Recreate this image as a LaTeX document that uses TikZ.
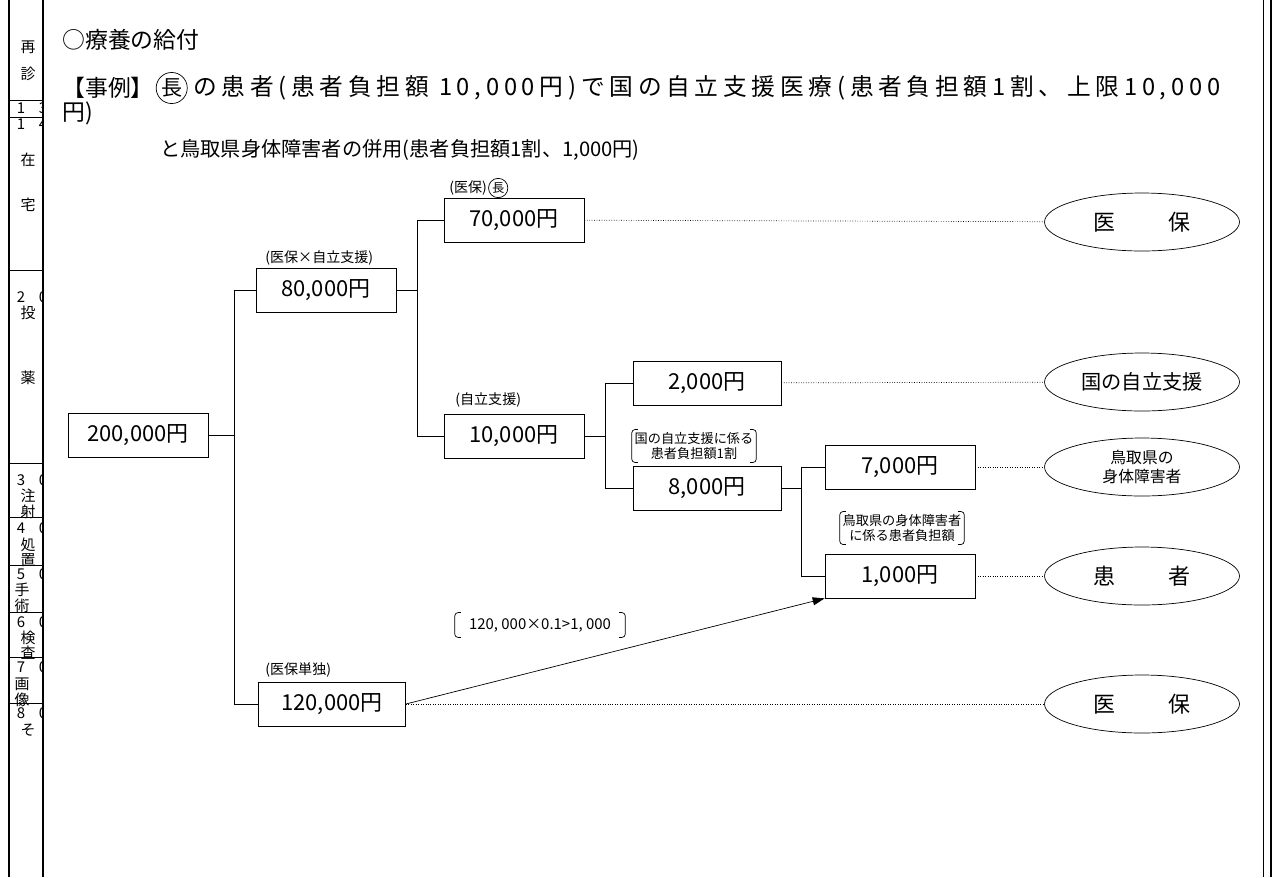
\documentclass[tikz,border=0pt]{standalone}
\usepackage{fontspec}
\setmainfont{Noto Sans CJK JP}
\newfontfamily\widejp[LetterSpace=20]{Noto Sans CJK JP}
\usetikzlibrary{arrows.meta, positioning, shapes.geometric, calc}

\begin{document}
\begin{tikzpicture}[x=0.02cm, y=-0.02cm,
    box/.style={draw, thin, minimum width=2.8cm, minimum height=0.88cm,
                inner sep=0pt, font=\fontsize{12.5}{14}\selectfont},
    payer/.style={draw, thin, ellipse, minimum width=3.9cm, minimum height=1.16cm,
                  inner sep=0pt, align=center, font=\fontsize{12.5}{14}\selectfont},
    tag/.style={anchor=west, inner sep=0pt, font=\fontsize{8}{9}\selectfont},
    note/.style={align=center, inner sep=1.5pt, font=\fontsize{7.5}{8.5}\selectfont},
    head/.style={anchor=west, inner sep=0pt},
    chou/.style={draw, circle, inner sep=0.6pt},
    margin/.style={inner sep=0pt, font=\fontsize{8.5}{9}\selectfont},
    dots/.style={thin, densely dotted},
    arr/.style={-{Triangle[length=2.4mm, width=1.6mm]}, thin}
]
    \useasboundingbox (0,0) rectangle (1279,877);

    % cut-off table at the left and the frame at the right
    \draw[line width=1.2pt] (9,0) -- (9,877);
    \draw[line width=0.9pt] (43,0) -- (43,877);
    \foreach \yy in {100,117,270,463,517,565,612,657,703}
        \draw[thin] (9,\yy) -- (43,\yy);
    \begin{scope}
        \clip (9,0) rectangle (43,877);
        \foreach \xx/\yy/\txt [count=\k] in {28/47/再, 28/74/診, 21/108/1, 43/108/3,
                21/124/1, 43/124/4, 28/160/在, 28/205/宅, 21/297/2, 43/297/0,
                28/313/投, 28/378/薬, 21/480/3, 43/480/0, 28/496/注, 28/512/射,
                21/528/4, 43/528/0, 28/545/処, 28/560/置, 21/574/5, 43/574/0,
                22/590/手, 22/606/術, 21/622/6, 43/622/0, 28/638/検, 28/653/査,
                21/667/7, 43/667/0, 22/684/画, 22/700/像, 21/713/8, 43/713/0,
                28/730/そ}
            \node[margin] (m\k) at (\xx,\yy) {\txt};
    \end{scope}
    \draw[thin] (1263,0) -- (1263,877);
    \draw[line width=0.9pt] (1271,0) -- (1271,877);

    % heading
    \node[head, font=\fontsize{13}{15}\selectfont] (title) at (62,40) {○療養の給付};
    \node[head, font=\fontsize{13}{15}\selectfont] (case) at (62,88) {【事例】};
    \node[chou, font=\fontsize{12}{13}\selectfont, right=1pt of case] (caseChou) {長};
    \node[head, font=\fontsize{13.5}{15}\widejp, right=3pt of caseChou]
        (caseText) {の患者(患者負担額 10,000円)で国の自立支援医療(患者負担額1割、上限10,000};
    \node[head, font=\fontsize{13}{15}\selectfont] (caseEnd) at (62,113) {円)};
    \node[head, font=\fontsize{11.5}{14}\selectfont] (caseMore) at (160,150)
        {と鳥取県身体障害者の併用(患者負担額1割、1,000円)};

    % amounts
    \node[box] (total)        at (138,435) {200,000円};
    \node[box] (mixed)        at (326,290) {80,000円};
    \node[box] (ihoShare)     at (514,220) {70,000円};
    \node[box] (jiritsu)      at (514,436) {10,000円};
    \node[box, minimum width=2.96cm] (kokuShare)    at (707,383) {2,000円};
    \node[box, minimum width=2.96cm] (kokuPart)     at (707,488) {8,000円};
    \node[box, minimum width=3cm]    (tottoriShare) at (900,467) {7,000円};
    \node[box, minimum width=3cm]    (patientShare) at (900,576) {1,000円};
    \node[box, minimum width=2.94cm] (ihoOnly)      at (332,704) {120,000円};

    % small captions
    \node[tag] (mixedTag) at (265,258) {(医保×自立支援)};
    \node[tag] (ihoTag) at (449,188) {(医保)};
    \node[chou, font=\fontsize{7}{8}\selectfont, right=0.5pt of ihoTag] (ihoChou) {長};
    \node[tag] (jiritsuTag) at (455,400) {(自立支援)};
    \node[tag] (onlyTag) at (265,670) {(医保単独)};

    % bracketed notes
    \node[note] (kokuNote)    at (694,446) {国の自立支援に係る\\患者負担額1割};
    \node[note] (tottoriNote) at (902,528) {鳥取県の身体障害者\\に係る患者負担額};
    \node[note, inner xsep=8pt, inner ysep=3pt, font=\fontsize{8.5}{9}\selectfont]
        (calcNote) at (540,625) {120, 000×0.1>1, 000};
    \foreach \n in {kokuNote, tottoriNote, calcNote} {
        \draw[thin, rounded corners=2pt] ([xshift=3.5pt]\n.north west) -- (\n.north west)
            -- (\n.south west) -- ([xshift=3.5pt]\n.south west);
        \draw[thin, rounded corners=2pt] ([xshift=-3.5pt]\n.north east) -- (\n.north east)
            -- (\n.south east) -- ([xshift=-3.5pt]\n.south east);
    }

    % payers
    \node[payer] (payIho1)    at (1142,222) {医\hspace{2.4em}保};
    \node[payer, font=\fontsize{11.5}{13}\selectfont] (payKoku) at (1142,382) {国の自立支援};
    \node[payer, font=\fontsize{9}{11}\selectfont] (payTottori) at (1142,467) {鳥取県の\\身体障害者};
    \node[payer] (payPatient) at (1142,576) {患\hspace{2.4em}者};
    \node[payer] (payIho2)    at (1142,704) {医\hspace{2.4em}保};

    % tree
    \draw[thin] (total.east) -- ++(26,0) |- (mixed.west);
    \draw[thin] (total.east) -- ++(26,0) |- (ihoOnly.west);
    \draw[thin] (mixed.east) -- ++(21,0) |- (ihoShare.west);
    \draw[thin] (mixed.east) -- ++(21,0) |- (jiritsu.west);
    \draw[thin] (jiritsu.east) -- ++(21,0) |- (kokuShare.west);
    \draw[thin] (jiritsu.east) -- ++(21,0) |- (kokuPart.west);
    \draw[thin] (kokuPart.east) -- ++(20,0) |- (tottoriShare.west);
    \draw[thin] (kokuPart.east) -- ++(20,0) |- (patientShare.west);
    \draw[arr] (ihoOnly.east) -- (patientShare.south west);

    % to the payers
    \draw[dots] (ihoShare) -- (payIho1);
    \draw[dots] (kokuShare) -- (payKoku);
    \draw[dots] (tottoriShare) -- (payTottori);
    \draw[dots] (patientShare) -- (payPatient);
    \draw[dots] (ihoOnly) -- (payIho2);
\end{tikzpicture}
\end{document}
